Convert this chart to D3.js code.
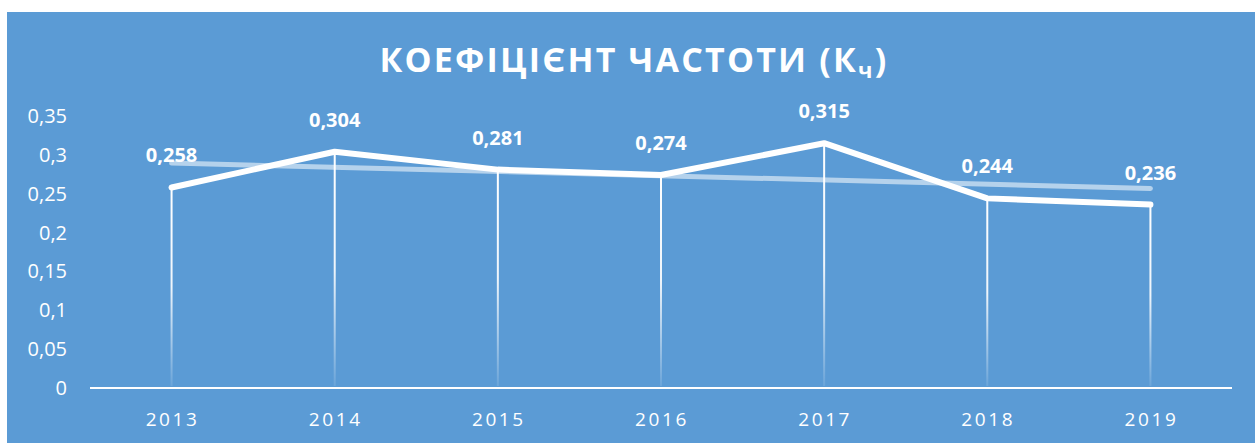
<!DOCTYPE html>
<meta charset="utf-8">
<style>
  body { margin: 0; background: #fff; }
  text { font-family: "Open Sans", sans-serif; fill: #fff; }
</style>
<body>
<script src="https://d3js.org/d3.v7.min.js"></script>
<script>

var years = ["2013", "2014", "2015", "2016", "2017", "2018", "2019"];
var values = [0.258, 0.304, 0.281, 0.274, 0.315, 0.244, 0.236];
var yTicks = [0, 0.05, 0.1, 0.15, 0.2, 0.25, 0.3, 0.35];

var width = 1255, height = 443;
var fmt = function(v) { return String(v).replace(".", ","); };

var svg = d3.select("body").append("svg")
    .attr("width", width)
    .attr("height", height);

svg.append("rect")
    .attr("x", 7).attr("y", 12)
    .attr("width", width - 7).attr("height", height - 12)
    .attr("fill", "#5b9bd5");

var x = d3.scaleBand().domain(years).range([90, 1232]);
var y = d3.scaleLinear().domain([0, 0.35]).range([388, 116]);
var cx = function(d) { return x(d) + x.bandwidth() / 2; };

// title
var title = svg.append("text")
    .attr("x", 634).attr("y", 72)
    .attr("text-anchor", "middle")
    .attr("font-size", 34).attr("font-weight", "bold")
    .attr("letter-spacing", 2.2);
title.append("tspan").text("КОЕФІЦІЄНТ ЧАСТОТИ (К");
title.append("tspan").attr("font-size", 22).attr("dy", 6).text("ч");
title.append("tspan").attr("dy", -6).text(")");

// y tick labels
svg.append("g").selectAll("text")
    .data(yTicks)
  .enter().append("text")
    .attr("x", 67)
    .attr("y", function(d) { return y(d); })
    .attr("dy", "0.35em")
    .attr("text-anchor", "end")
    .attr("font-size", 20)
    .text(fmt);

// x axis line + labels
svg.append("line")
    .attr("x1", 90).attr("x2", 1232)
    .attr("y1", y(0)).attr("y2", y(0))
    .attr("stroke", "#fff").attr("stroke-width", 2);

svg.append("g").selectAll("text")
    .data(years)
  .enter().append("text")
    .attr("x", function(d) { return cx(d) + 1; })
    .attr("y", 426)
    .attr("text-anchor", "middle")
    .attr("font-size", 19)
    .attr("letter-spacing", 2.6)
    .text(function(d) { return d; });

// drop lines with fade
var grad = svg.append("defs").append("linearGradient")
    .attr("id", "fade").attr("x1", 0).attr("x2", 0).attr("y1", 0).attr("y2", 1);
grad.append("stop").attr("offset", "0%").attr("stop-color", "#fff").attr("stop-opacity", 1);
grad.append("stop").attr("offset", "50%").attr("stop-color", "#fff").attr("stop-opacity", 0.9);
grad.append("stop").attr("offset", "100%").attr("stop-color", "#fff").attr("stop-opacity", 0.1);

svg.append("g").selectAll("rect")
    .data(years)
  .enter().append("rect")
    .attr("x", function(d) { return cx(d) - 1; })
    .attr("y", function(d, i) { return y(values[i]); })
    .attr("width", 2)
    .attr("height", function(d, i) { return y(0) - y(values[i]) - 2; })
    .attr("fill", "url(#fade)");

// linear trend
var n = values.length, mx = (n - 1) / 2, my = d3.mean(values);
var slope = d3.sum(values, function(v, i) { return (i - mx) * (v - my); }) /
            d3.sum(values, function(v, i) { return (i - mx) * (i - mx); });
var trend = function(i) { return my + slope * (i - mx); };

svg.append("line")
    .attr("x1", cx(years[0])).attr("y1", y(trend(0)))
    .attr("x2", cx(years[n - 1])).attr("y2", y(trend(n - 1)))
    .attr("stroke", "#fff").attr("stroke-opacity", 0.55)
    .attr("stroke-width", 5).attr("stroke-linecap", "round");

// main line
var line = d3.line()
    .x(function(d, i) { return cx(years[i]); })
    .y(function(d) { return y(d); });

svg.append("path")
    .datum(values)
    .attr("d", line)
    .attr("fill", "none")
    .attr("stroke", "#fff")
    .attr("stroke-width", 6)
    .attr("stroke-linejoin", "round")
    .attr("stroke-linecap", "round");

// data labels
svg.append("g").selectAll("text")
    .data(values)
  .enter().append("text")
    .attr("x", function(d, i) { return cx(years[i]); })
    .attr("y", function(d) { return y(d) - 25; })
    .attr("text-anchor", "middle")
    .attr("font-size", 20)
    .attr("font-weight", "bold")
    .text(fmt);

</script>
</body>
